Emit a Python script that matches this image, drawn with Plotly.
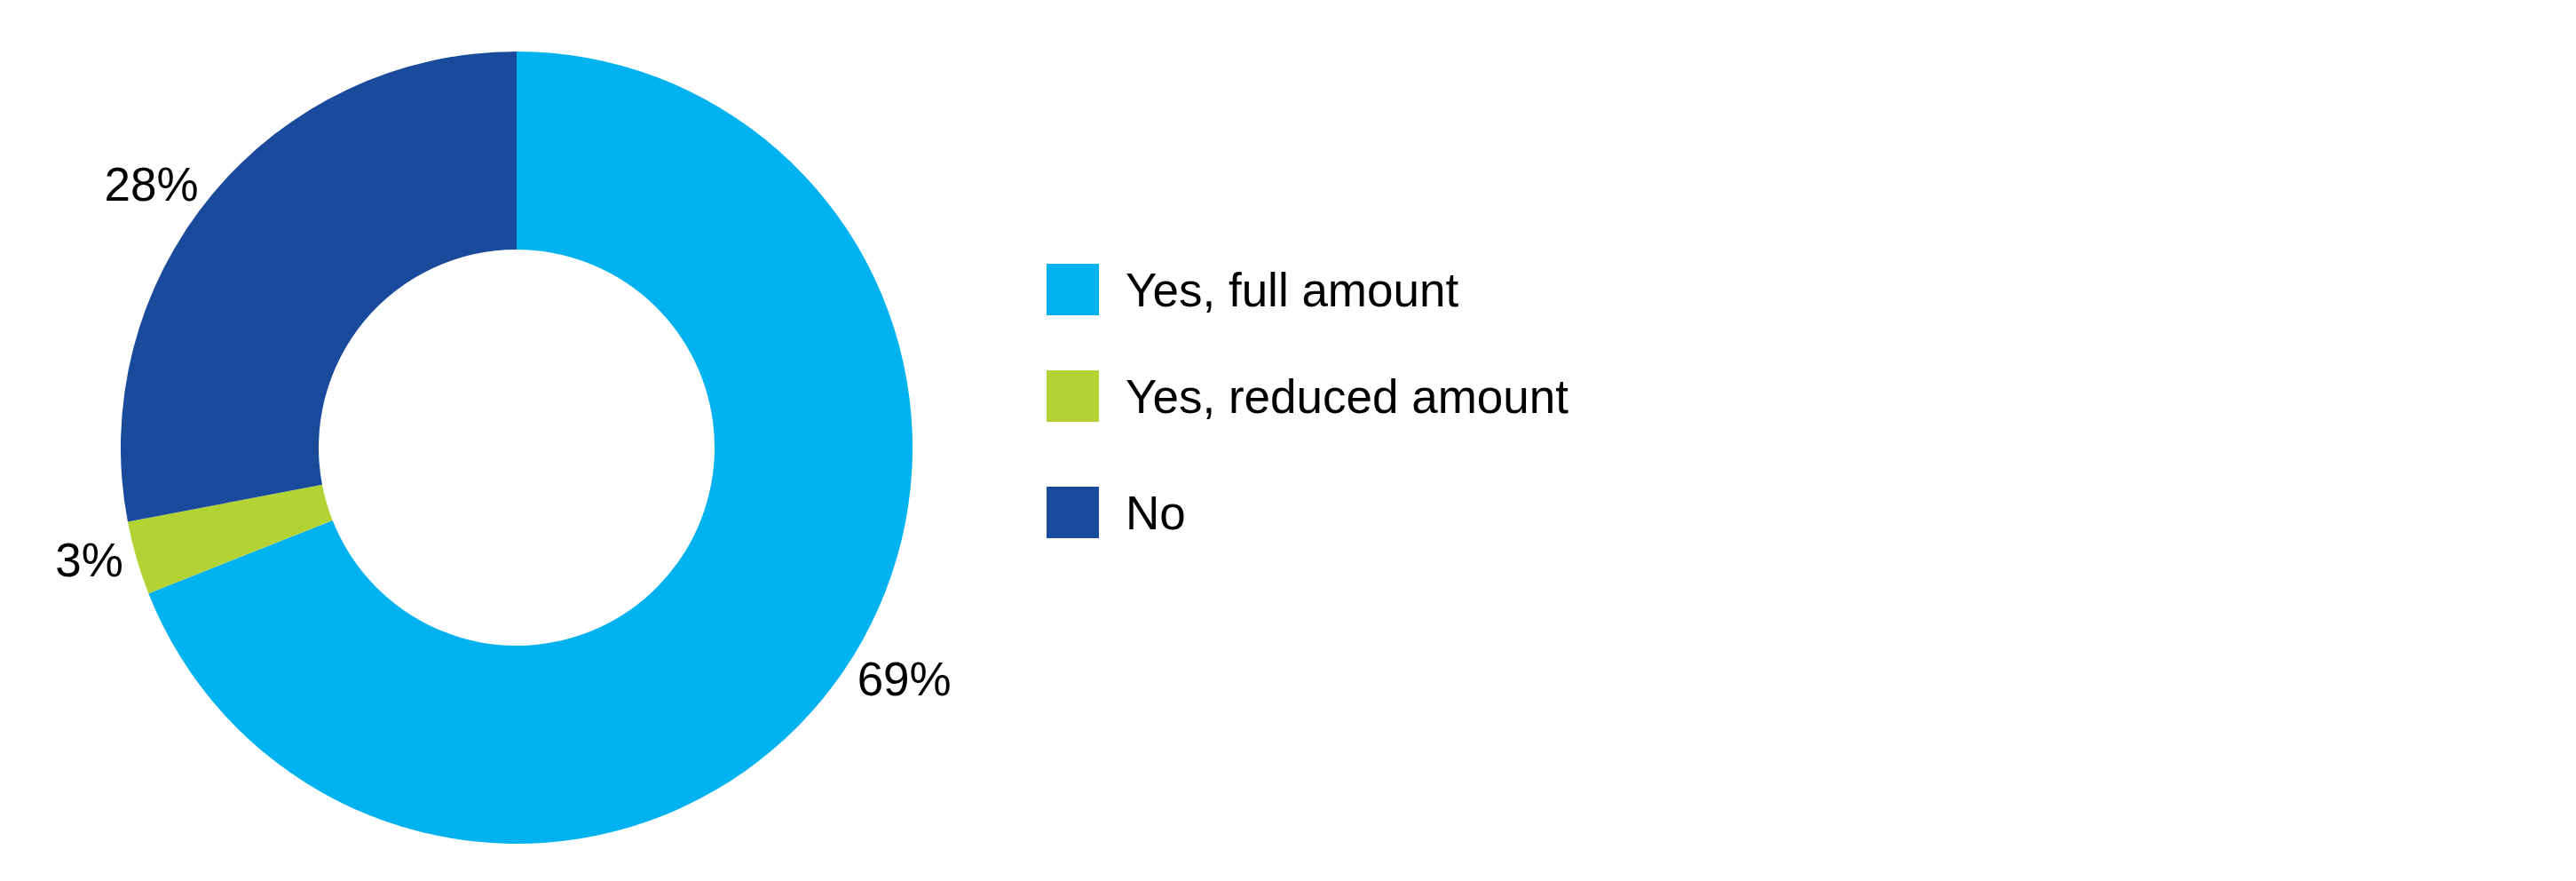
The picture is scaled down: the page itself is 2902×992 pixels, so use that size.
import plotly.graph_objects as go

categories = ["Yes, full amount", "Yes, reduced amount", "No"]
values = [69, 3, 28]
colors = ["#00B2F0", "#B3D334", "#1A4A9B"]

FONT = "Liberation Sans, Arial, Helvetica, sans-serif"
W, H = 2902, 992

fig = go.Figure()
fig.add_trace(go.Pie(
    labels=categories,
    values=values,
    hole=0.5,
    sort=False,
    direction="clockwise",
    rotation=0,
    marker=dict(colors=colors, line=dict(width=0)),
    texttemplate="%{value}%",
    textposition="outside",
    outsidetextfont=dict(size=53, color="#000000", family=FONT),
    showlegend=False,
    domain=dict(x=[128 / W, 1020 / W], y=[50 / H, 942 / H]),
    hoverinfo="label+percent",
))

# Custom legend (large squares) built from the category list
leg_x0 = 1171 / W
leg_w = 59 / W
row_y = [318, 438, 569]
for cat, col, yc in zip(categories, colors, row_y):
    y_top = 1 - (yc - 29) / H
    y_bot = 1 - (yc + 29) / H
    fig.add_shape(type="rect", xref="paper", yref="paper",
                  x0=leg_x0, x1=leg_x0 + leg_w, y0=y_bot, y1=y_top,
                  fillcolor=col, line=dict(width=0))
    fig.add_annotation(xref="paper", yref="paper", x=1258 / W, y=1 - yc / H,
                       text=cat, showarrow=False, xanchor="left", yanchor="middle",
                       font=dict(size=53, color="#000000", family=FONT))

fig.update_layout(
    width=W, height=H,
    margin=dict(l=0, r=0, t=0, b=0),
    paper_bgcolor="white", plot_bgcolor="white",
    font=dict(family=FONT),
)

fig.write_html("out.html")
